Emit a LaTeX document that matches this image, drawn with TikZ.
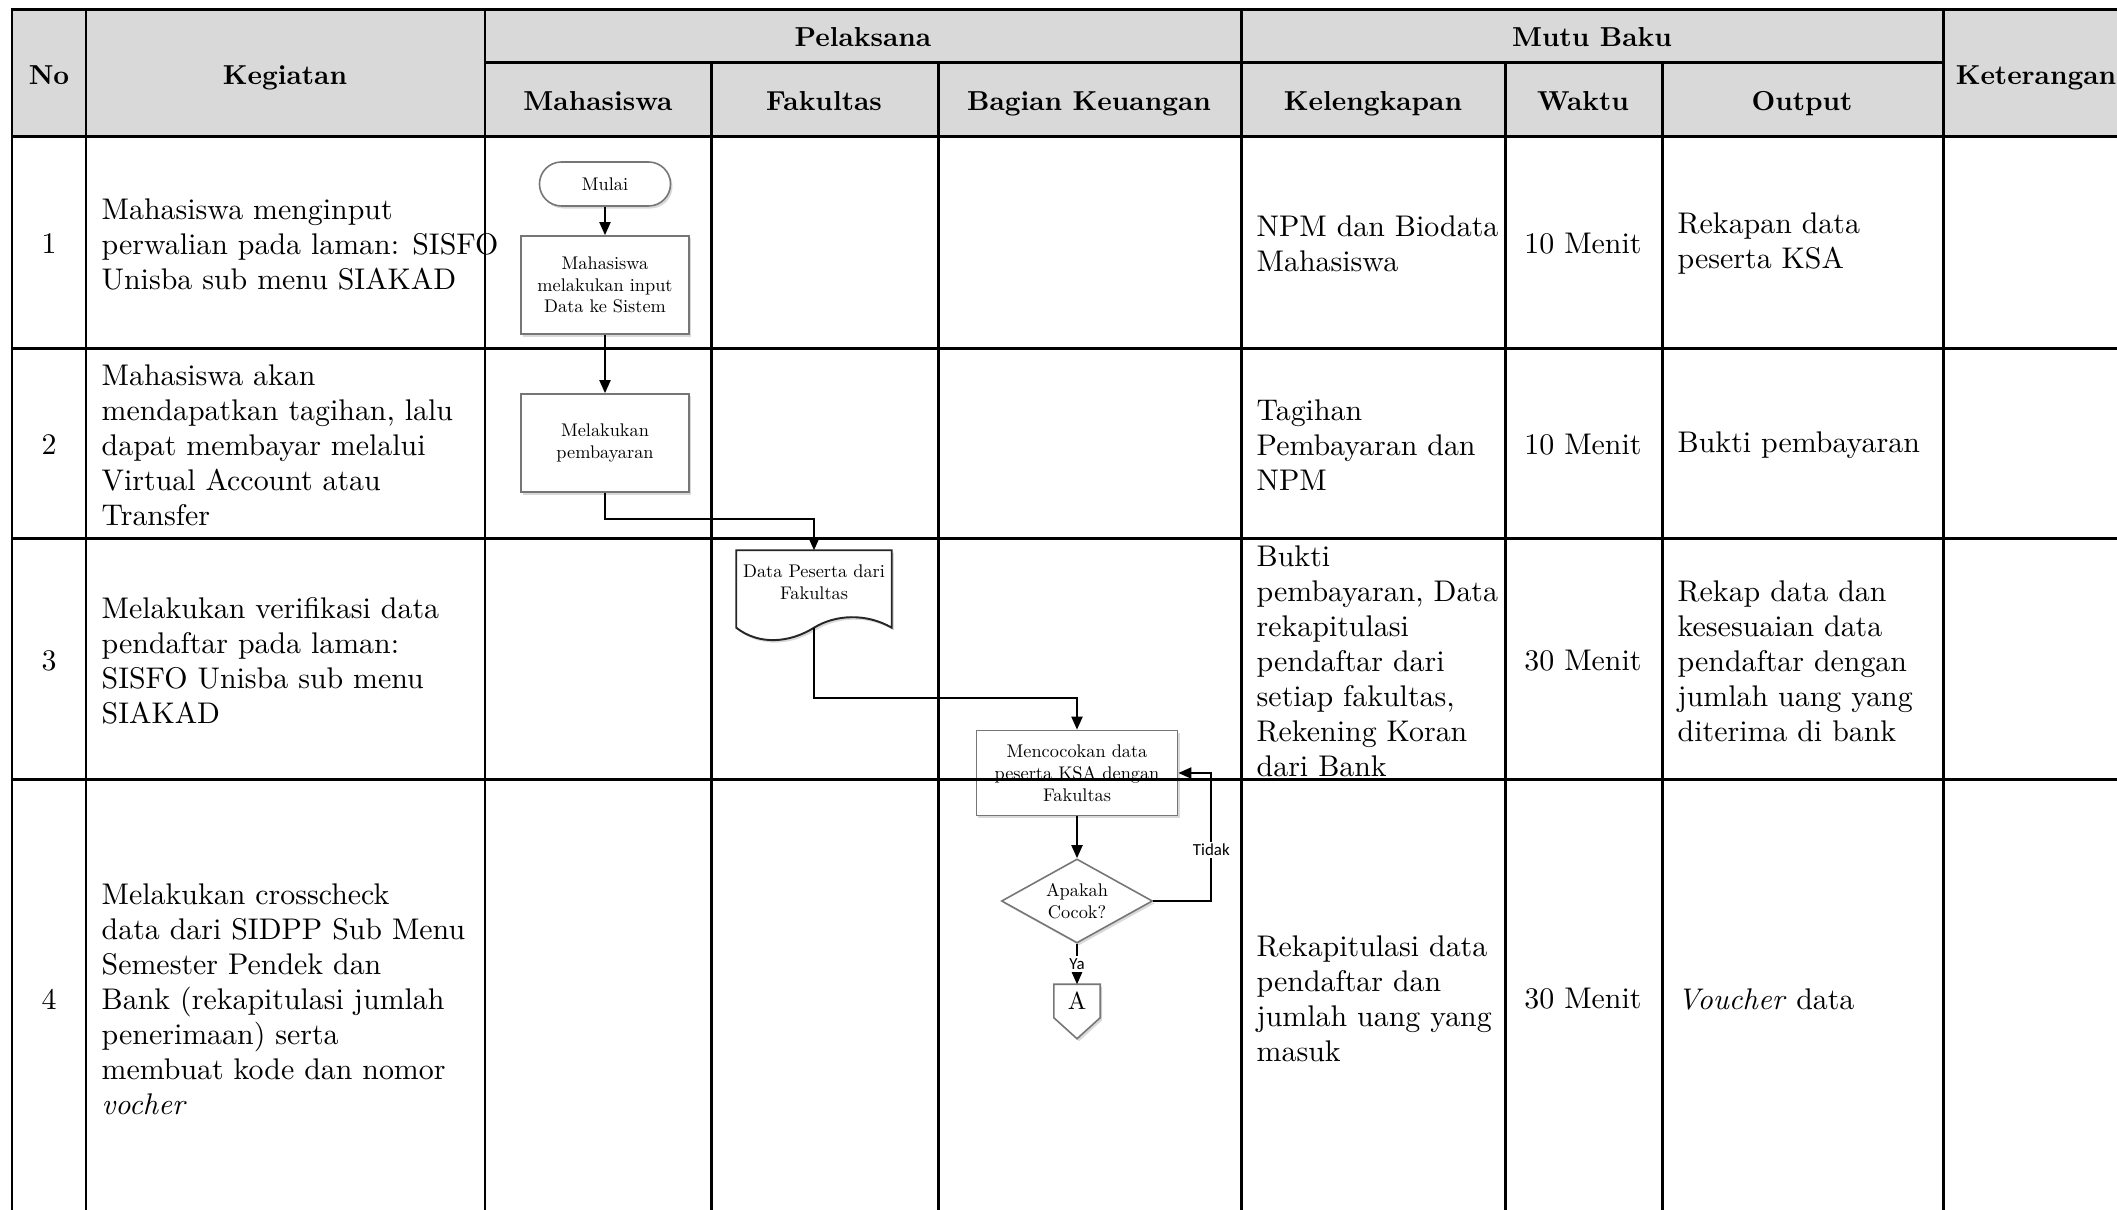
\documentclass[tikz,border=0pt]{standalone}
\usepackage{fontspec}
\usepackage{tikz}
\usetikzlibrary{positioning,arrows.meta,shapes.geometric,shadows,backgrounds}
\setmainfont{lmroman10-regular.otf}[BoldFont=lmroman10-bold.otf, ItalicFont=lmroman10-italic.otf, BoldItalicFont=lmroman10-bolditalic.otf]
\newfontfamily\labelfont{Carlito}

\definecolor{headgray}{HTML}{D9D9D9}
\definecolor{shapegray}{HTML}{767676}

\tikzset{
  tablerule/.style={line width=0.85pt},
  shapeline/.style={draw=shapegray, line width=0.45pt, fill=white,
    drop shadow={shadow xshift=0.02cm, shadow yshift=-0.025cm, opacity=0.3}},
  chart/.style={font=\fontsize{5.2}{6.2}\selectfont, align=center, inner sep=0pt},
  process/.style={chart, shapeline, rectangle, minimum width=1.68cm, minimum height=0.98cm},
  terminal/.style={chart, shapeline, rectangle, rounded corners=0.22cm, minimum width=1.31cm, minimum height=0.44cm},
  decision/.style={chart, shapeline, diamond, shape aspect=1.8, minimum width=1.51cm, minimum height=0.84cm},
  docnode/.style={chart, rectangle, minimum width=1.54cm, minimum height=0.76cm, text depth=4pt},
  flow/.style={line width=0.55pt, -{Triangle[length=0.13cm,width=0.11cm]}},
  lbl/.style={font=\labelfont\fontsize{4.8}{5.5}\selectfont, fill=white, inner sep=0.6pt},
  head/.style={font=\fontsize{7.8}{9}\selectfont\bfseries, inner sep=0pt, text height=5.4pt, text depth=1.6pt},
  cell/.style={font=\fontsize{8.5}{9.96}\selectfont, align=left, anchor=west, inner sep=0pt},
  mid/.style={font=\fontsize{8.5}{9.96}\selectfont, align=center, inner sep=0pt},
}

\begin{document}
\begin{tikzpicture}[x=0.01cm, y=-0.01cm]
  \useasboundingbox (0,0) rectangle (2117,1210);

  % Header
  \fill[headgray] (12,10) rectangle (2117,137);
  \node[head] (hno) at (49,78) {No};
  \node[head] (hkegiatan) at (285,78) {Kegiatan};
  \node[head] (hpelaksana) at (863,40) {Pelaksana};
  \node[head] (hmutu) at (1592,40) {Mutu Baku};
  \node[head] (hmahasiswa) at (598,104) {Mahasiswa};
  \node[head] (hfakultas) at (824,104) {Fakultas};
  \node[head] (hkeuangan) at (1089,104) {Bagian Keuangan};
  \node[head] (hlengkap) at (1373,104) {Kelengkapan};
  \node[head] (hwaktu) at (1583,104) {Waktu};
  \node[head] (houtput) at (1802,104) {Output};
  \node[head] (hket) at (2036,78) {Keterangan};

  % Row 1
  \node[mid] (no1) at (49,244) {1};
  \node[cell] (keg1) at (101,244) {Mahasiswa menginput\\perwalian pada laman: SISFO\\Unisba sub menu SIAKAD};
  \node[cell] (leng1) at (1256,244) {NPM dan Biodata\\Mahasiswa};
  \node[mid] (waktu1) at (1583,244) {10 Menit};
  \node[cell] (out1) at (1677,244) {Rekapan data\\peserta KSA};

  % Row 2
  \node[mid] (no2) at (49,445) {2};
  \node[cell] (keg2) at (101,445) {Mahasiswa akan\\mendapatkan tagihan, lalu\\dapat membayar melalui\\Virtual Account atau\\Transfer};
  \node[cell] (leng2) at (1256,445) {Tagihan\\Pembayaran dan\\NPM};
  \node[mid] (waktu2) at (1583,445) {10 Menit};
  \node[cell] (out2) at (1677,445) {Bukti pembayaran};

  % Row 3
  \node[mid] (no3) at (49,661) {3};
  \node[cell] (keg3) at (101,661) {Melakukan verifikasi data\\pendaftar pada laman:\\SISFO Unisba sub menu\\SIAKAD};
  \node[cell] (leng3) at (1256,661) {Bukti\\pembayaran, Data\\rekapitulasi\\pendaftar dari\\setiap fakultas,\\Rekening Koran\\dari Bank};
  \node[mid] (waktu3) at (1583,661) {30 Menit};
  \node[cell] (out3) at (1677,661) {Rekap data dan\\kesesuaian data\\pendaftar dengan\\jumlah uang yang\\diterima di bank};

  % Row 4
  \node[mid] (no4) at (49,999) {4};
  \node[cell] (keg4) at (101,999) {Melakukan crosscheck\\data dari SIDPP Sub Menu\\Semester Pendek dan\\Bank (rekapitulasi jumlah\\penerimaan) serta\\membuat kode dan nomor\\\textit{vocher}};
  \node[cell] (leng4) at (1256,999) {Rekapitulasi data\\pendaftar dan\\jumlah uang yang\\masuk};
  \node[mid] (waktu4) at (1583,999) {30 Menit};
  \node[cell] (out4) at (1677,999) {\textit{Voucher} data};

  % Flowchart
  \node[terminal] (mulai) at (605,184) {Mulai};
  \node[process] (input) at (605,285) {Mahasiswa\\melakukan input\\Data ke Sistem};
  \node[process] (bayar) at (605,443) {Melakukan\\pembayaran};
  \node[docnode] (data) at (814,589) {Data Peserta dari\\Fakultas};
  \node[process, minimum width=2.01cm, minimum height=0.85cm] (cocok) at (1077,773) {Mencocokan data\\peserta KSA dengan\\Fakultas};
  \node[decision] (tanya) at (1077,901) {Apakah\\Cocok?};
  \node[chart, font=\fontsize{7}{8}\selectfont, minimum width=0.45cm, minimum height=0.32cm] (konA) at (1077,1001) {A};

  \begin{scope}[on background layer]
    \draw[shapeline, draw=black!85, line width=0.55pt] (data.south west) -- (data.north west) -- (data.north east) -- (data.south east)
      .. controls +(-26,-15) and +(21,-13) .. (data.south)
      .. controls +(-24,15) and +(23,18) .. (data.south west) -- cycle;
    \draw[shapeline] (konA.north west) -- (konA.north east) -- (konA.south east)
      -- ([yshift=-0.21cm]konA.south) -- (konA.south west) -- cycle;
  \end{scope}

  \draw[flow] (mulai) -- (input);
  \draw[flow] (input) -- (bayar);
  \draw[flow] (bayar.south) -- ++(0,26) -| (data.north);
  \draw[flow] (data.south) -- ++(0,70) -| (cocok.north);
  \draw[flow] (cocok) -- (tanya);
  \draw[flow] (tanya.east) -- ++(58,0) |- (cocok.east) node[pos=0.2, lbl] {Tidak};
  \draw[flow] (tanya.south) -- (konA.north) node[midway, lbl] {Ya};

  % Table rules
  \draw[tablerule] (2117,10) -- (12,10) -- (12,1210);
  \foreach \y in {137,349,539,780}
    \draw[tablerule] (12,\y) -- (2117,\y);
  \draw[tablerule] (485,63) -- (1943,63);
  \foreach \x in {86,485,1241,1943}
    \draw[tablerule] (\x,10) -- (\x,1210);
  \foreach \x in {711,938,1505,1662}
    \draw[tablerule] (\x,63) -- (\x,1210);

\end{tikzpicture}
\end{document}
